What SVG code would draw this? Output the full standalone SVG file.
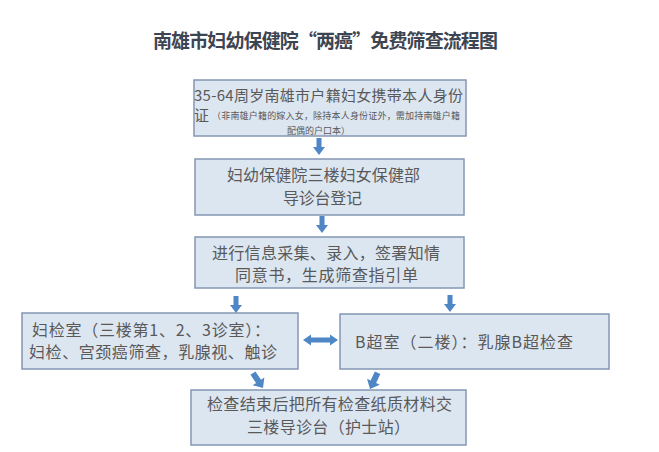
<svg xmlns="http://www.w3.org/2000/svg" xmlns:xlink="http://www.w3.org/1999/xlink" width="659" height="452" viewBox="0 0 659 452">
<style>
.box{fill:#dce6f1;stroke:#8497b3;stroke-width:1.5}
.t{font-family:"Noto Sans CJK SC","Liberation Sans",sans-serif;fill:#595959;font-size:16px}
.m{font-size:15px}
.s{font-size:9px}
.title{font-family:"Noto Sans CJK SC","Liberation Sans",sans-serif;font-weight:bold;font-size:19px;fill:#3e4552}
.arr{fill:#4f86c6}
</style>
<defs>
<path id="a" d="M-2.5,-17 L2.5,-17 L2.5,-8 L6,-8 L0,0 L-6,-8 L-2.5,-8 Z"/>
<path id="b" d="M-3,-18 L3,-18 L3,-8 L7,-8 L0,0 L-7,-8 L-3,-8 Z"/>
</defs>
<rect width="659" height="452" fill="#ffffff"/>
<text class="title" x="153" y="48" textLength="345">南雄市妇幼保健院“两癌”免费筛查流程图</text>

<g id="n1">
<rect class="box" x="194" y="80" width="272" height="56"/>
<text class="t m" x="194" y="101" textLength="269">35-64周岁南雄市户籍妇女携带本人身份</text>
<text class="t m" x="194" y="120.5">证</text>
<text class="t s" x="212" y="118.5" textLength="248">（非南雄户籍的嫁入女，除持本人身份证外，需加持南雄户籍</text>
<text class="t s" x="287" y="133.5">配偶的户口本）</text>
</g>

<g id="n2">
<rect class="box" x="195" y="159" width="269" height="56"/>
<text class="t" x="227" y="181" textLength="193">妇幼保健院三楼妇女保健部</text>
<text class="t" x="283" y="204" textLength="79">导诊台登记</text>
</g>

<g id="n3">
<rect class="box" x="195" y="237" width="269" height="51"/>
<text class="t" x="212" y="259" textLength="228">进行信息采集、录入，签署知情</text>
<text class="t" x="235" y="281" textLength="183">同意书，生成筛查指引单</text>
</g>

<g id="n4">
<rect class="box" x="22" y="313" width="276" height="56"/>
<text class="t" x="32" y="336" textLength="238">妇检室（三楼第1、2、3诊室）：</text>
<text class="t" x="29" y="358" textLength="248">妇检、宫颈癌筛查，乳腺视、触诊</text>
</g>

<g id="n5">
<rect class="box" x="340" y="314" width="269" height="55"/>
<text class="t" x="355" y="348" textLength="218">B超室（二楼）：乳腺B超检查</text>
</g>

<g id="n6">
<rect class="box" x="191" y="390" width="275" height="55"/>
<text class="t" x="207" y="410" textLength="245">检查结束后把所有检查纸质材料交</text>
<text class="t" x="247" y="433" textLength="163">三楼导诊台（护士站）</text>
</g>

<g id="connectors" class="arr">
<use xlink:href="#a" transform="translate(319,155)"/>
<use xlink:href="#a" transform="translate(322,233)"/>
<use xlink:href="#a" transform="translate(236,313)"/>
<use xlink:href="#a" transform="translate(450,312)"/>
<path d="M303,340 L311,334.5 L311,337.5 L330,337.5 L330,334.5 L338,340 L330,345.5 L330,342.5 L311,342.5 L311,345.5 Z"/>
<use xlink:href="#b" transform="translate(263,388) rotate(-34)"/>
<use xlink:href="#b" transform="translate(370,389) rotate(25)"/>
</g>
</svg>
